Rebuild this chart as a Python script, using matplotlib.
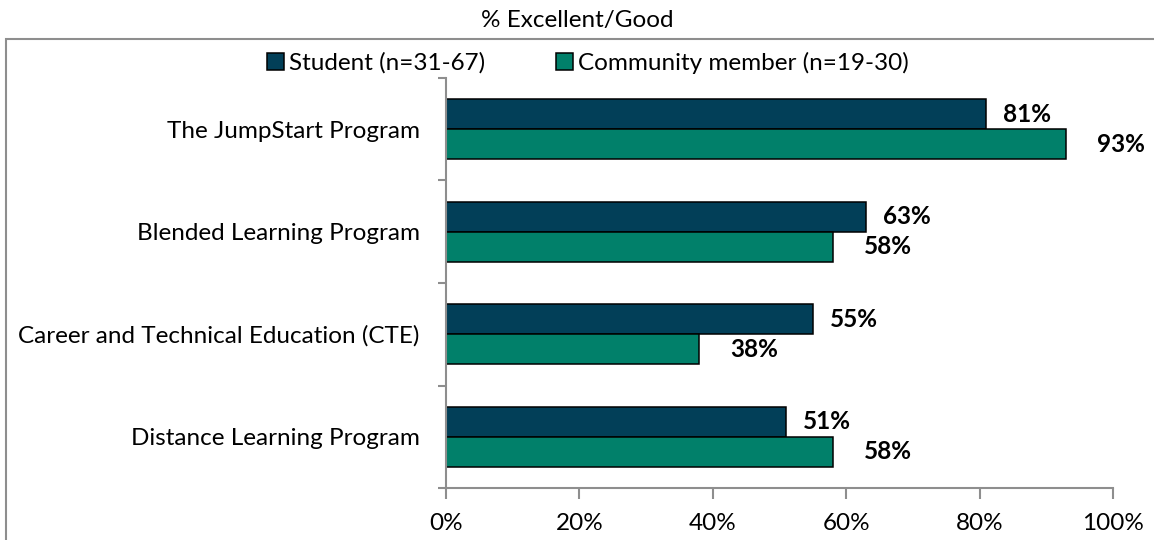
import matplotlib.pyplot as plt
from matplotlib.patches import Rectangle
import numpy as np

# данные
programs = ['The JumpStart Program', 'Blended Learning Program',
            'Career and Technical Education (CTE)', 'Distance Learning Program']
student = [81, 63, 55, 51]
community = [93, 58, 38, 58]
series_names = ['Student (n=31-67)', 'Community member (n=19-30)']
x_ticks = [0, 20, 40, 60, 80, 100]

c_student = '#023F58'
c_comm = '#01806A'
grey = '#8E8E8E'
fs = 17.5

plt.rcParams['font.family'] = ['Lato', 'DejaVu Sans']

fig = plt.figure(figsize=(11.54, 5.4), dpi=100)
ax = fig.add_axes([446 / 1154, 1 - 488 / 540, (1113 - 446) / 1154, (488 - 78) / 540])

y = np.arange(len(programs))
h = 0.293
b1 = ax.barh(y - h / 2, student, height=h, color=c_student, edgecolor='black', linewidth=1.1,
             label=series_names[0])
b2 = ax.barh(y + h / 2, community, height=h, color=c_comm, edgecolor='black', linewidth=1.1,
             label=series_names[1])

ax.bar_label(b1, labels=[f'{v}%' for v in student], padding=12, fontsize=fs, fontweight='bold')
ax.bar_label(b2, labels=[f'{v}%' for v in community], padding=22, fontsize=fs, fontweight='bold')

ax.set_xlim(0, 100)
ax.set_ylim(len(programs) - 0.5, -0.5)

ax.set_xticks(x_ticks)
ax.set_xticklabels([f'{v}%' for v in x_ticks], fontsize=fs)
ax.tick_params(axis='x', direction='out', length=8, width=1.5, color=grey, pad=10)

# засечки по границам категорий, подписи по центрам
ax.set_yticks(np.arange(-0.5, len(programs)))
ax.set_yticklabels([])
ax.set_yticks(y, minor=True)
ax.set_yticklabels(programs, minor=True, fontsize=fs)
ax.tick_params(axis='y', which='major', direction='out', length=6, width=1.5, color=grey)
ax.tick_params(axis='y', which='minor', length=0, pad=19)

for s in ['top', 'right']:
    ax.spines[s].set_visible(False)
for s in ['left', 'bottom']:
    ax.spines[s].set_color(grey)
    ax.spines[s].set_linewidth(1.5)

fig.text(0.5, 1 - 21 / 540, '% Excellent/Good', ha='center', va='center', fontsize=fs)

# рамка диаграммы
fig.add_artist(Rectangle((6 / 1154, -0.5), 1.5, 0.5 + 1 - 39 / 540, transform=fig.transFigure,
                         fill=False, edgecolor=grey, linewidth=1.5))

leg = fig.legend(loc='center', bbox_to_anchor=(588 / 1154, 1 - 63 / 540), ncol=2, frameon=False,
                 fontsize=fs, handlelength=0.7, handleheight=0.7, handletextpad=0.2,
                 columnspacing=2.9)

fig.savefig('out.png', dpi=100)
